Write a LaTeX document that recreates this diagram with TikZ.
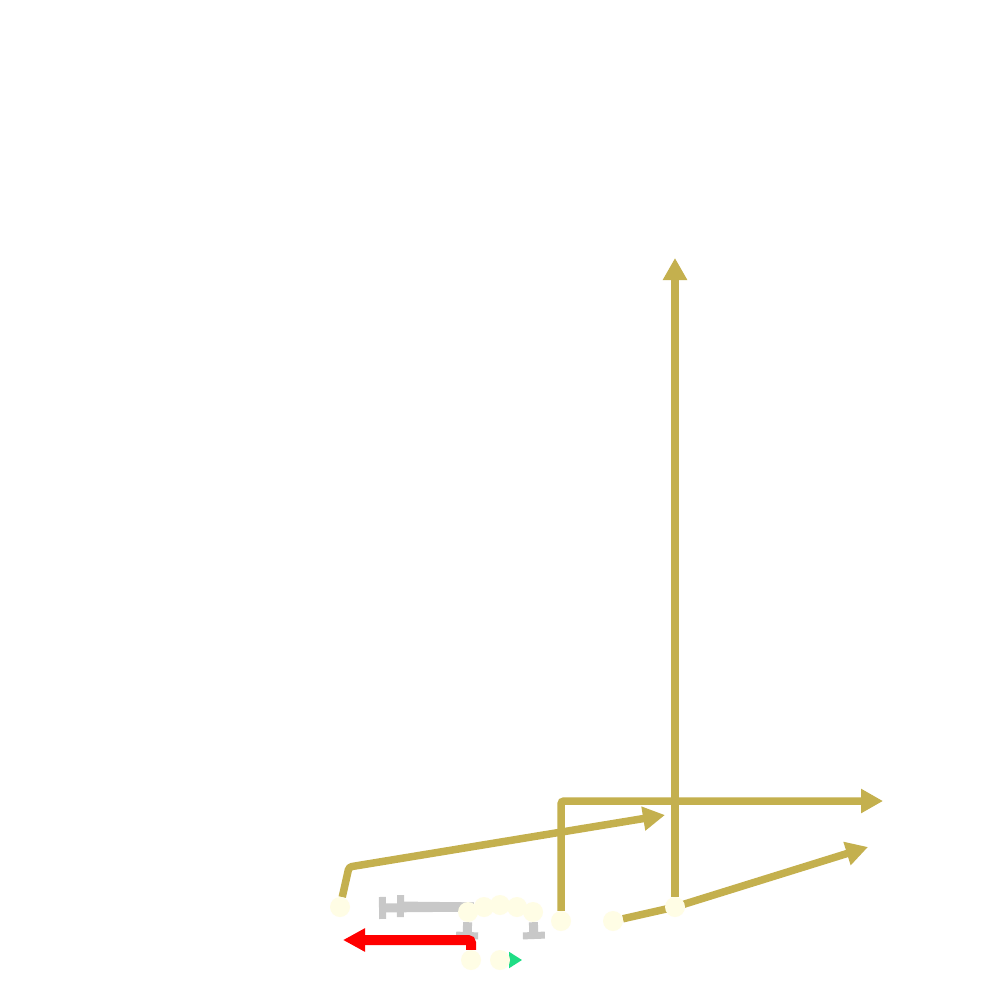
\documentclass[tikz,border=0pt]{standalone}
\usetikzlibrary{arrows.meta,backgrounds}
\definecolor{cream}{HTML}{FFFDE5}
\definecolor{gold}{HTML}{C4B04E}
\definecolor{lgray}{HTML}{C8C8C8}
\definecolor{mint}{HTML}{1FDD85}
\begin{document}
\begin{tikzpicture}[x=1pt,y=-1pt,
  dot/.style={circle,fill=cream,draw=none,minimum size=20pt,inner sep=0pt},
  goldline/.style={draw=gold,line width=7.5pt,rounded corners=3pt,-{Triangle[length=22pt,width=23pt]}},
  grayline/.style={draw=lgray,line width=9pt,-{Bar[width=22pt,line width=7pt]}},
  redline/.style={draw=red,line width=10pt,rounded corners=3pt,-{Triangle[length=22pt,width=22pt]}},
  greenline/.style={draw=mint,line width=2pt,-{Triangle[length=13pt,width=16pt]}}]
\useasboundingbox (0,0) rectangle (1000,1000);
% nodes
\node[dot] (A) at (340,907) {};
\node[dot] (c1) at (468,912) {};
\node[dot] (c2) at (484,907) {};
\node[dot] (c3) at (500,905) {};
\node[dot] (c4) at (517,907) {};
\node[dot] (c5) at (533,912) {};
\node[dot] (D) at (561,921) {};
\node[dot] (E) at (613,921) {};
\node[dot] (F) at (675,907) {};
\node[dot] (G) at (471,960) {};
\node[dot] (H) at (500,960) {};
% free ends
\coordinate (aBend) at (349,867);
\coordinate (aEnd) at (665,815);
\coordinate (dEnd) at (883,801);
\coordinate (fEnd) at (675,258);
\coordinate (eEnd) at (868,847);
\coordinate (gA) at (379,908);
\coordinate (gB) at (397,906);
\coordinate (t1) at (467,939);
\coordinate (t5) at (534,939);
\coordinate (rEnd) at (343,940);
\coordinate (hEnd) at (522,960);
\begin{scope}[on background layer]
\fill[white] (0,0) rectangle (1000,1000);
\draw[goldline] (A) -- (aBend) -- (aEnd);
\draw[goldline] (D) |- (dEnd);
\draw[goldline] (F) -- (fEnd);
\draw[goldline] (E) -- (F.center) -- (eEnd);
\draw[grayline] (c2) -- (gA);
\draw[grayline] (c2) -- (gB);
\draw[grayline] (c1) -- (t1);
\draw[grayline] (c5) -- (t5);
\draw[redline] (G) |- (rEnd);
\draw[greenline] (H) -- (hEnd);
\end{scope}
\end{tikzpicture}
\end{document}
